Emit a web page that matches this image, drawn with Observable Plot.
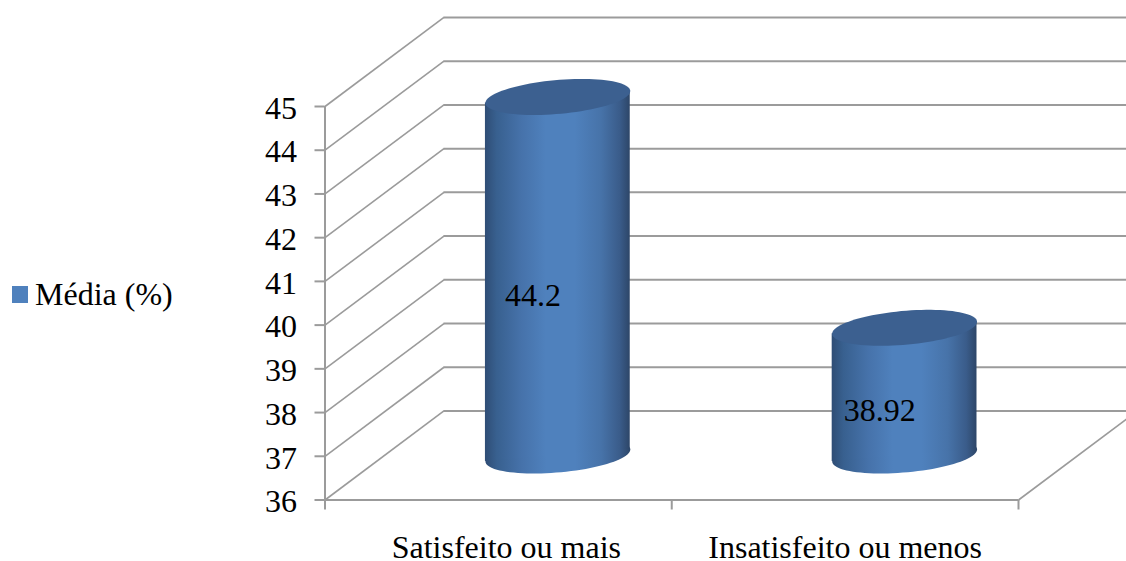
<!DOCTYPE html>
<html lang="pt">
<head>
<meta charset="utf-8">
<script src="https://cdn.jsdelivr.net/npm/d3@7"></script>
<script src="https://cdn.jsdelivr.net/npm/@observablehq/plot@0.6"></script>
<style>
  html, body { margin: 0; background: #fff; }
  #chart { position: relative; width: 1126px; height: 561px; overflow: hidden; font-family: "Liberation Serif", serif; }
  #chart svg { display: block; }
  .legend { position: absolute; left: 12px; top: 276px; display: flex; align-items: center; gap: 7px; font-size: 32px; line-height: 36px; color: #000; }
  .legend i { display: block; width: 16px; height: 17px; background: #4f81bd; }
</style>
</head>
<body>
<div id="chart"></div>
<script>
const categories = ["Satisfeito ou mais", "Insatisfeito ou menos"];
const media = [44.2, 38.92];
const yTicks = [36, 37, 38, 39, 40, 41, 42, 43, 44, 45];
const seriesName = "Média (%)";

// Oblique depth of the 3D box, in x and y scale units.
const depthX = 0.343;
const depthY = 2.036;
// Cylinder cross-section: a floor-plane circle under the same oblique projection.
const radiusA = 0.197;
const radiusBx = 0.0692;
const radiusBy = 0.412;
const halfWidth = Math.hypot(radiusA, radiusBx);
const edgeTilt = radiusBy * radiusBx / halfWidth;

const grid = "#9b9b9b";
const rows = media.map((value, i) => ({
  name: categories[i],
  value,
  cx: i + 0.5 + depthX / 2,
  base: 36 + depthY / 2,
  top: value + depthY / 2
}));

// Outline of a cylinder end, at level `key` of each row.
const angles = d3.range(0, 360, 4).map((d) => d * Math.PI / 180);
const ring = (key) => rows.flatMap((r) => angles.map((t) => ({
  name: r.name,
  x: r.cx + radiusA * Math.cos(t) + radiusBx * Math.sin(t),
  y: r[key] + radiusBy * Math.sin(t)
})));
// Side wall between the two ends, from the left silhouette edge to the right one.
const wall = rows.flatMap((r) => [-1, 1].map((s) => ({
  name: r.name,
  x: r.cx + s * halfWidth,
  y1: r.base + s * edgeTilt,
  y2: r.top + s * edgeTilt
})));

const shading = () => {
  const defs = d3.create("svg:defs");
  const g = defs.append("linearGradient").attr("id", "cylinderSide")
    .attr("x1", 0).attr("x2", 1).attr("y1", 0).attr("y2", 0);
  [[0, "#2f4d75"], [0.08, "#38608f"], [0.25, "#4672aa"], [0.42, "#4f81bd"], [0.62, "#4f81bd"],
   [0.8, "#4773a9"], [0.93, "#3a5c8a"], [1, "#2d4668"]]
    .forEach(([o, c]) => g.append("stop").attr("offset", o).attr("stop-color", c));
  return defs.node();
};

const serif = "Liberation Serif";
const plot = Plot.plot({
  width: 1126,
  height: 561,
  marginLeft: 324.5,
  marginRight: 108,
  marginTop: 106,
  marginBottom: 61.5,
  style: { fontFamily: serif, background: "transparent", overflow: "hidden" },
  x: { domain: [0, 2], axis: null },
  y: { domain: [36, 45], axis: null },
  marks: [
    shading,
    // Back wall and left wall gridlines
    Plot.ruleY(yTicks, { y: (d) => d + depthY, x1: depthX, x2: 2 + depthX, stroke: grid, strokeWidth: 2 }),
    Plot.link(yTicks, { x1: 0, y1: (d) => d, x2: depthX, y2: (d) => d + depthY, stroke: grid, strokeWidth: 1.6 }),
    // Floor edges
    Plot.link([36], { x1: 2, y1: (d) => d, x2: 2 + depthX, y2: (d) => d + depthY, stroke: grid, strokeWidth: 1.6 }),
    Plot.ruleY([36], { x1: 0, x2: 2, stroke: grid, strokeWidth: 2 }),
    Plot.ruleX([0], { y1: 36, y2: 45, stroke: grid, strokeWidth: 2 }),
    // Axes: tick marks first, then the numbers set slightly below their ticks
    Plot.axisY({ ticks: yTicks, tickSize: 10, stroke: grid, strokeWidth: 2, tickFormat: () => "", label: null }),
    Plot.axisY({ ticks: yTicks, tickSize: 0, tickPadding: 28, fill: "#000", fontSize: 32, label: null, tickFormat: (d) => String(d), dy: 2 }),
    Plot.axisX({ ticks: [0, 1, 2], tickSize: 10, stroke: grid, strokeWidth: 2, tickFormat: () => "", label: null }),
    // Cylinders
    Plot.line(ring("base"), { x: "x", y: "y", z: "name", fill: "url(#cylinderSide)", stroke: "none" }),
    Plot.areaY(wall, { x: "x", y1: "y1", y2: "y2", z: "name", fill: "url(#cylinderSide)" }),
    Plot.line(ring("top"), { x: "x", y: "y", z: "name", fill: "#3c6090", stroke: "none" }),
    // Value labels
    Plot.text(rows, {
      x: (d) => d.cx - 0.072,
      y: (d) => (36 + d.value) / 2 + depthY * 0.28,
      text: (d) => String(d.value),
      fontSize: 32,
      fill: "#000",
      stroke: "none"
    }),
    // Category labels
    ...categories.map((c, i) => Plot.text([c], {
      x: i + 0.5,
      y: 36,
      text: (d) => d,
      dx: i === 0 ? 8 : 0,
      dy: 48,
      fontSize: 32,
      fill: "#000"
    }))
  ]
});

const root = document.getElementById("chart");
root.append(plot);
const legend = document.createElement("div");
legend.className = "legend";
const swatch = document.createElement("i");
const label = document.createElement("span");
label.textContent = seriesName;
legend.append(swatch, label);
root.append(legend);
</script>
</body>
</html>
